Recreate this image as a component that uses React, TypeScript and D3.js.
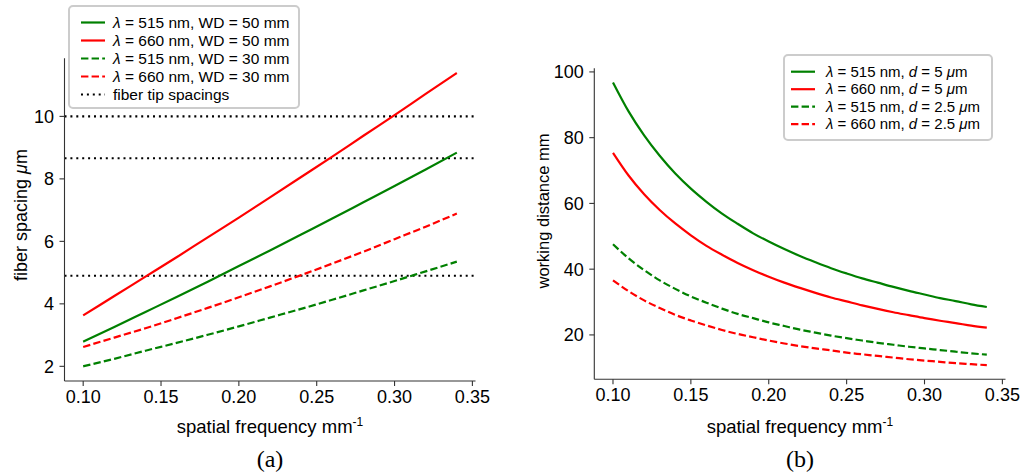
import React from 'react';
import * as d3 from 'd3';

// ---------- data ----------
const freqA = [0.10, 0.12, 0.14, 0.16, 0.18, 0.20, 0.22, 0.24, 0.26, 0.28, 0.30, 0.32, 0.34];
const spacing515WD50 = [2.79, 3.26, 3.74, 4.22, 4.71, 5.21, 5.71, 6.22, 6.73, 7.25, 7.77, 8.30, 8.84];
const spacing660WD50 = [3.63, 4.25, 4.87, 5.49, 6.13, 6.76, 7.41, 8.06, 8.71, 9.38, 10.04, 10.72, 11.39];
const spacing515WD30 = [2.00, 2.24, 2.50, 2.75, 3.01, 3.28, 3.56, 3.84, 4.13, 4.43, 4.73, 5.04, 5.35];
const spacing660WD30 = [2.62, 2.92, 3.22, 3.54, 3.87, 4.21, 4.56, 4.92, 5.29, 5.67, 6.07, 6.47, 6.89];
const fiberTipSpacings = [10, 8.66, 4.9];

const freqB = [0.10, 0.11, 0.12, 0.13, 0.14, 0.15, 0.16, 0.17, 0.18, 0.19, 0.20, 0.21, 0.22,
  0.23, 0.24, 0.25, 0.26, 0.27, 0.28, 0.29, 0.30, 0.31, 0.32, 0.33, 0.34];
const wd515d5 = [96.8, 88.0, 80.7, 74.5, 69.1, 64.5, 60.5, 56.9, 53.8, 50.9, 48.4, 46.1, 44.0,
  42.1, 40.3, 38.7, 37.2, 35.9, 34.6, 33.4, 32.3, 31.2, 30.3, 29.3, 28.5];
const wd660d5 = [75.4, 68.5, 62.8, 58.0, 53.9, 50.3, 47.1, 44.4, 41.9, 39.7, 37.7, 35.9, 34.3,
  32.8, 31.4, 30.2, 29.0, 27.9, 26.9, 26.0, 25.1, 24.3, 23.6, 22.8, 22.2];
const wd515d25 = [47.6, 43.3, 39.7, 36.6, 34.0, 31.7, 29.8, 28.0, 26.4, 25.1, 23.8, 22.7, 21.6,
  20.7, 19.8, 19.0, 18.3, 17.6, 17.0, 16.4, 15.9, 15.4, 14.9, 14.4, 14.0];
const wd660d25 = [36.6, 33.3, 30.5, 28.2, 26.1, 24.4, 22.9, 21.5, 20.3, 19.3, 18.3, 17.4, 16.6,
  15.9, 15.3, 14.6, 14.1, 13.6, 13.1, 12.6, 12.2, 11.8, 11.4, 11.1, 10.8];

const xTicks = [0.10, 0.15, 0.20, 0.25, 0.30, 0.35];
const yTicksA = [2, 4, 6, 8, 10];
const yTicksB = [20, 40, 60, 80, 100];

type Part = { t: string; i?: boolean };
const legendLabelsA: Part[][] = [
  [{ t: 'λ', i: true }, { t: ' = 515 nm, WD = 50 mm' }],
  [{ t: 'λ', i: true }, { t: ' = 660 nm, WD = 50 mm' }],
  [{ t: 'λ', i: true }, { t: ' = 515 nm, WD = 30 mm' }],
  [{ t: 'λ', i: true }, { t: ' = 660 nm, WD = 30 mm' }],
  [{ t: 'fiber tip spacings' }],
];
const legendLabelsB: Part[][] = [
  [{ t: 'λ', i: true }, { t: ' = 515 nm, ' }, { t: 'd', i: true }, { t: ' = 5 ' }, { t: 'μ', i: true }, { t: 'm' }],
  [{ t: 'λ', i: true }, { t: ' = 660 nm, ' }, { t: 'd', i: true }, { t: ' = 5 ' }, { t: 'μ', i: true }, { t: 'm' }],
  [{ t: 'λ', i: true }, { t: ' = 515 nm, ' }, { t: 'd', i: true }, { t: ' = 2.5 ' }, { t: 'μ', i: true }, { t: 'm' }],
  [{ t: 'λ', i: true }, { t: ' = 660 nm, ' }, { t: 'd', i: true }, { t: ' = 2.5 ' }, { t: 'μ', i: true }, { t: 'm' }],
];

// ---------- styles ----------
const FONT = "'Liberation Sans', Arial, Helvetica, sans-serif";
const GREEN = '#008000';
const RED = '#ff0000';
const DASH = '7.4,3.2';
const DOT = '2,3.9';
const AXIS = '#333';

type Series = { xs: number[]; ys: number[]; color: string; dash?: string };

function Parts({ parts }: { parts: Part[] }) {
  return (
    <>
      {parts.map((p, k) => (
        <tspan key={k} fontStyle={p.i ? 'italic' : 'normal'}>{p.t}</tspan>
      ))}
    </>
  );
}

function Panel(props: {
  xRange: [number, number];
  yRange: [number, number];
  yDomain: [number, number];
  yTicks: number[];
  series: Series[];
  hlines?: number[];
  ylabel: Part[];
  ylabelX: number;
  ylabelY: number;
  ylabelSize: number;
  caption: string;
  legend: { x: number; y: number; w: number; h: number; rowY0: number; rowDy: number; lx: number; tx: number; fs: number; labels: Part[][]; styles: { color: string; dash?: string }[] };
}) {
  const { xRange, yRange, yDomain, yTicks, series, hlines, ylabel, ylabelX, ylabelY, ylabelSize, caption, legend } = props;
  const x = d3.scaleLinear().domain([0.088, 0.352]).range(xRange);
  const y = d3.scaleLinear().domain(yDomain).range(yRange);
  const [xl, xr] = xRange;
  const [yb, yt] = yRange;
  const cx = (xl + xr) / 2;
  return (
    <g fontFamily={FONT}>
      {hlines && hlines.map((h, k) => (
        <line key={k} x1={xl} x2={xr} y1={y(h)} y2={y(h)} stroke="#000" strokeWidth={2.2} strokeDasharray={DOT} />
      ))}
      {series.map((s, k) => {
        const gen = d3.line<number>().x((_, i) => x(s.xs[i])).y(d => y(d)).curve(d3.curveMonotoneX);
        return <path key={k} d={gen(s.ys) || ''} fill="none" stroke={s.color} strokeWidth={2.2} strokeDasharray={s.dash} />;
      })}
      {/* spines */}
      <line x1={xl} x2={xl} y1={yt} y2={yb} stroke={AXIS} strokeWidth={1.1} />
      <line x1={xl} x2={xr} y1={yb} y2={yb} stroke={AXIS} strokeWidth={1.1} />
      {xTicks.map(t => (
        <g key={t} transform={`translate(${x(t)},${yb})`}>
          <line y1={0} y2={5} stroke={AXIS} strokeWidth={1.1} />
          <text y={22} textAnchor="middle" fontSize={18} fill="#000">{t.toFixed(2)}</text>
        </g>
      ))}
      {yTicks.map(t => (
        <g key={t} transform={`translate(${xl},${y(t)})`}>
          <line x1={0} x2={-5} stroke={AXIS} strokeWidth={1.1} />
          <text x={-10.5} dy="0.36em" textAnchor="end" fontSize={18} fill="#000">{t}</text>
        </g>
      ))}
      <text x={cx} y={433} textAnchor="middle" fontSize={18.5} fill="#000">
        spatial frequency mm<tspan fontSize={12} dy={-7}>-1</tspan>
      </text>
      <text transform={`translate(${ylabelX},${ylabelY}) rotate(-90)`} textAnchor="middle" fontSize={ylabelSize} fill="#000">
        <Parts parts={ylabel} />
      </text>
      <text x={cx} y={467} textAnchor="middle" fontSize={24} fontFamily="'Liberation Serif', 'Times New Roman', serif" fill="#000">{caption}</text>
      {/* legend */}
      <rect x={legend.x} y={legend.y} width={legend.w} height={legend.h} rx={4} ry={4} fill="#fff" fillOpacity={0.85} stroke="#cccccc" strokeWidth={2} />
      {legend.labels.map((lab, k) => {
        const ry = legend.rowY0 + k * legend.rowDy;
        const st = legend.styles[k];
        return (
          <g key={k}>
            <line x1={legend.lx} x2={legend.lx + 24} y1={ry} y2={ry} stroke={st.color} strokeWidth={2.2} strokeDasharray={st.dash} />
            <text x={legend.tx} y={ry} dy="0.35em" fontSize={legend.fs} fill="#000"><Parts parts={lab} /></text>
          </g>
        );
      })}
    </g>
  );
}

export default function App() {
  const seriesA: Series[] = [
    { xs: freqA, ys: spacing515WD50, color: GREEN },
    { xs: freqA, ys: spacing660WD50, color: RED },
    { xs: freqA, ys: spacing515WD30, color: GREEN, dash: DASH },
    { xs: freqA, ys: spacing660WD30, color: RED, dash: DASH },
  ];
  const seriesB: Series[] = [
    { xs: freqB, ys: wd515d5, color: GREEN },
    { xs: freqB, ys: wd660d5, color: RED },
    { xs: freqB, ys: wd515d25, color: GREEN, dash: DASH },
    { xs: freqB, ys: wd660d25, color: RED, dash: DASH },
  ];
  const allA = [...spacing515WD50, ...spacing660WD50, ...spacing515WD30, ...spacing660WD30];
  const allB = [...wd515d5, ...wd660d5, ...wd515d25, ...wd660d25];
  const padDom = (v: number[]): [number, number] => {
    const lo = d3.min(v) as number, hi = d3.max(v) as number;
    const m = (hi - lo) * 0.05;
    return [lo - m, hi + m];
  };
  return (
    <svg width={1021} height={476} style={{ position: 'absolute', left: 0, top: 0, background: '#fff' }}>
      <rect width={1021} height={476} fill="#fff" />
      <Panel
        xRange={[64.5, 475.5]}
        yRange={[381, 58.3]}
        yDomain={padDom(allA)}
        yTicks={yTicksA}
        series={seriesA}
        hlines={fiberTipSpacings}
        ylabel={[{ t: 'fiber spacing ' }, { t: 'μ', i: true }, { t: 'm' }]}
        ylabelX={27}
        ylabelY={215}
        ylabelSize={18}
        caption="(a)"
        legend={{
          x: 69, y: 6, w: 230, h: 102, rowY0: 22.5, rowDy: 18, lx: 81, tx: 113, fs: 15.5,
          labels: legendLabelsA,
          styles: [{ color: GREEN }, { color: RED }, { color: GREEN, dash: DASH }, { color: RED, dash: DASH }, { color: '#000', dash: DOT }],
        }}
      />
      <Panel
        xRange={[594.3, 1005.5]}
        yRange={[379.3, 68.3]}
        yDomain={padDom(allB)}
        yTicks={yTicksB}
        series={seriesB}
        ylabel={[{ t: 'working distance mm' }]}
        ylabelX={549}
        ylabelY={211}
        ylabelSize={16.5}
        caption="(b)"
        legend={{
          x: 784, y: 55, w: 208, h: 85, rowY0: 71.7, rowDy: 17.5, lx: 791, tx: 826, fs: 15,
          labels: legendLabelsB,
          styles: [{ color: GREEN }, { color: RED }, { color: GREEN, dash: DASH }, { color: RED, dash: DASH }],
        }}
      />
    </svg>
  );
}
